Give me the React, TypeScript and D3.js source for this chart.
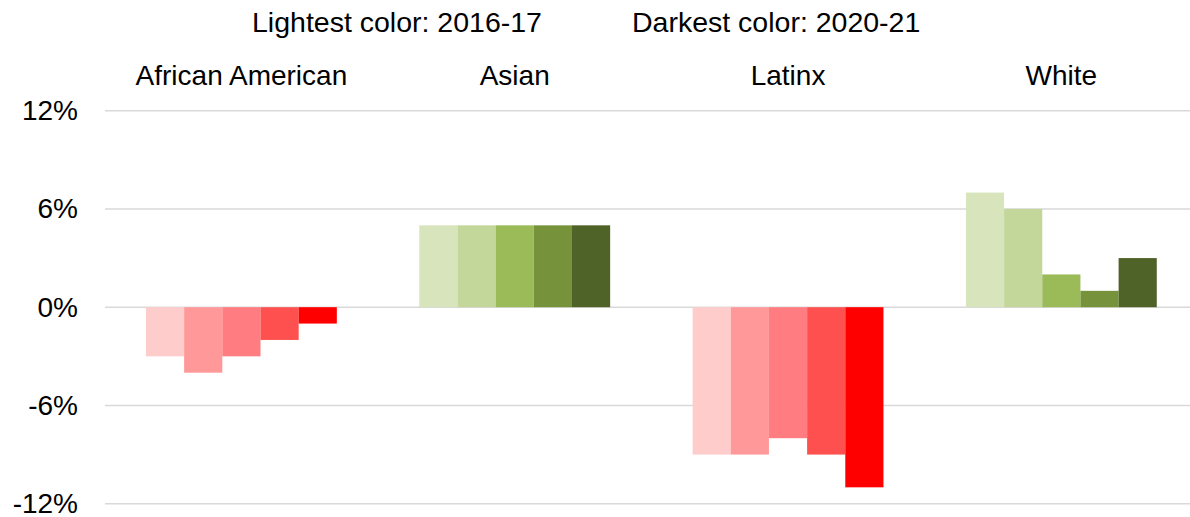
import React from "react";
import * as d3 from "d3";

// Change in share by group, one bar per school year (lightest = 2016-17, darkest = 2020-21)
const categories = ["African American", "Asian", "Latinx", "White"];
const years = ["2016-17", "2017-18", "2018-19", "2019-20", "2020-21"];

const africanAmerican = [-3, -4, -3, -2, -1];
const asian = [5, 5, 5, 5, 5];
const latinx = [-9, -9, -8, -9, -11];
const white = [7, 6, 2, 1, 3];

const tickValues = [-12, -6, 0, 6, 12];
const tickLabels = ["-12%", "-6%", "0%", "6%", "12%"];

const reds = ["#FFCCCC", "#FF9999", "#FF7C80", "#FF5050", "#FF0000"];
const greens = ["#D8E4BC", "#C4D79B", "#9BBB59", "#76933C", "#4F6228"];

const W = 1190;
const H = 517;
const FONT = "'Liberation Sans', Arial, Helvetica, sans-serif";

export default function App() {
  const series = [africanAmerican, asian, latinx, white];

  const x0 = d3
    .scaleBand<string>()
    .domain(categories)
    .range([104.75, 1198])
    .paddingInner(0)
    .paddingOuter(0);

  const x1 = d3
    .scaleBand<string>()
    .domain(years)
    .range([0, x0.bandwidth()])
    .paddingInner(0)
    .paddingOuter(1.08);

  const y = d3.scaleLinear().domain([-12, 12]).range([503.7, 110.7]);

  return (
    <svg
      width={W}
      height={H}
      style={{ position: "absolute", left: 0, top: 0, background: "#fff" }}
      fontFamily={FONT}
    >
      <rect x={0} y={0} width={W} height={H} fill="#fff" />

      {/* legend note */}
      <text x={252} y={32} fontSize={28.5} fill="#000">
        Lightest color: 2016-17
      </text>
      <text x={632} y={32} fontSize={28.5} fill="#000">
        Darkest color: 2020-21
      </text>

      {/* gridlines */}
      {tickValues.map((t) => (
        <line
          key={`g${t}`}
          x1={105}
          x2={W}
          y1={y(t)}
          y2={y(t)}
          stroke="#D9D9D9"
          strokeWidth={1.5}
        />
      ))}

      {/* y tick labels */}
      {tickValues.map((t, i) => (
        <text
          key={`t${t}`}
          x={78}
          y={y(t) + 9.5}
          fontSize={28}
          textAnchor="end"
          fill="#000"
        >
          {tickLabels[i]}
        </text>
      ))}

      {/* category labels */}
      {categories.map((c) => (
        <text
          key={c}
          x={(x0(c) as number) + x0.bandwidth() / 2}
          y={85}
          fontSize={28}
          textAnchor="middle"
          fill="#000"
        >
          {c}
        </text>
      ))}

      {/* bars */}
      {categories.map((c, ci) =>
        series[ci].map((v, yi) => {
          const palette = v < 0 ? reds : greens;
          const top = y(Math.max(0, v));
          const bottom = y(Math.min(0, v));
          return (
            <rect
              key={`${c}-${yi}`}
              x={(x0(c) as number) + (x1(years[yi]) as number)}
              y={top}
              width={x1.bandwidth()}
              height={bottom - top}
              fill={palette[yi]}
            />
          );
        })
      )}
    </svg>
  );
}
